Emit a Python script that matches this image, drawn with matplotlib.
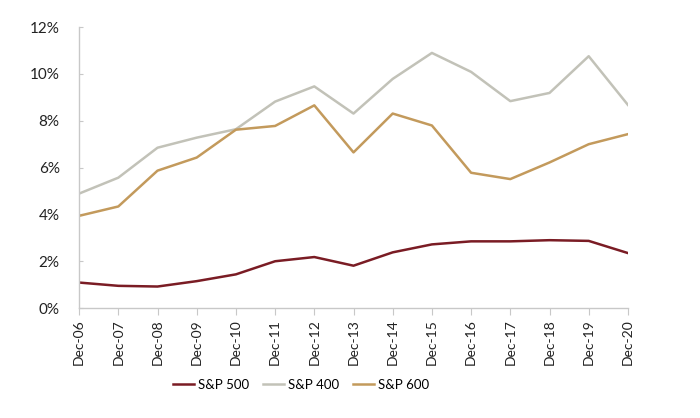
import numpy as np
import matplotlib.pyplot as plt
from matplotlib.ticker import PercentFormatter

## DATA
years = ["Dec-06", "Dec-07", "Dec-08", "Dec-09", "Dec-10", "Dec-11", "Dec-12", "Dec-13",
         "Dec-14", "Dec-15", "Dec-16", "Dec-17", "Dec-18", "Dec-19", "Dec-20"]
sp500 = [1.09, 0.95, 0.92, 1.15, 1.44, 2.00, 2.18, 1.81, 2.38, 2.72, 2.85, 2.85, 2.90, 2.87, 2.35]
sp400 = [4.89, 5.57, 6.85, 7.28, 7.64, 8.82, 9.47, 8.31, 9.79, 10.90, 10.09, 8.84, 9.19, 10.76, 8.68]
sp600 = [3.94, 4.34, 5.87, 6.43, 7.62, 7.78, 8.66, 6.65, 8.31, 7.80, 5.78, 5.51, 6.22, 7.00, 7.43]

plt.rcParams['font.family'] = ['Lato', 'DejaVu Sans']

fig = plt.figure(figsize=(7, 4.18), dpi=100)
ax = fig.add_axes([0.113, 0.263, 0.784, 0.672])

x = np.arange(len(years))
ax.plot(x, sp500, color="#7a1c24", lw=1.8, label="S&P 500")
ax.plot(x, sp400, color="#c2c2b8", lw=1.8, label="S&P 400")
ax.plot(x, sp600, color="#c39a5c", lw=1.8, label="S&P 600")

ax.set_xlim(0, len(years) - 1)
ax.set_ylim(0, 12)
ax.set_yticks(np.arange(0, 13, 2))
ax.yaxis.set_major_formatter(PercentFormatter(decimals=0))
ax.set_xticks(x)
ax.set_xticklabels(years, rotation=90)

for side in ["top", "right"]:
    ax.spines[side].set_visible(False)
for side in ["left", "bottom"]:
    ax.spines[side].set_color("#c8c8c8")
    ax.spines[side].set_linewidth(1)

ax.tick_params(axis="x", direction="out", length=5, color="#c8c8c8", labelsize=10, pad=3, labelcolor="#222222")
ax.tick_params(axis="y", direction="in", length=3, color="#c8c8c8", labelsize=11, pad=14, labelcolor="#222222")

fig.legend(loc="center", bbox_to_anchor=(0.43, 0.079), ncol=3, frameon=False, fontsize=9.5,
           handlelength=1.6, handletextpad=0.25, columnspacing=1.1)

plt.savefig("out.png")
